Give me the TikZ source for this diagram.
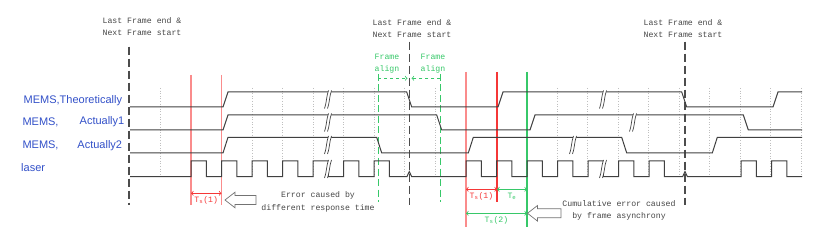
\documentclass[tikz,border=0pt]{standalone}
\usepackage{fontspec}
\newfontfamily\monofont{Liberation Mono}
\newfontfamily\labelfont{Liberation Sans}
\definecolor{memsblue}{RGB}{50,80,200}
\definecolor{markred}{RGB}{250,140,140}
\definecolor{dimred}{RGB}{245,55,55}
\definecolor{markgreen}{RGB}{55,200,105}
\definecolor{notegray}{RGB}{70,70,70}
\tikzset{
	sig/.style = {line width = 1pt, black!75},
	frameline/.style = {line width = 1.1pt, black!70, dash pattern = on 8pt off 4pt},
	alignline/.style = {line width = 1pt, markgreen, dash pattern = on 7pt off 3.5pt},
	gridline/.style = {black!25, dotted, line width = 0.6pt},
	note/.style = {font = \monofont\fontsize{8.2}{12.3}\selectfont, notegray, align = center, inner sep = 0pt},
	dimtext/.style = {font = \monofont\fontsize{8.2}{10}\selectfont, inner sep = 0pt},
	rowlabel/.style = {font = \labelfont\fontsize{11}{13}\selectfont, memsblue, inner sep = 0pt},
	hollow/.style = {draw = black!55, fill = white, line width = 0.7pt},
	brk/.pic = {
		\fill [white] (-3.5,9) -- (0.5,-9) -- (3.5,-9) -- (-0.5,9) -- cycle;
		\draw [line width = 0.7pt, black!75] (-3.5,9) .. controls (-1.5,4) and (-1.5,-4) .. (0.5,-9);
		\draw [line width = 0.7pt, black!75] (-0.5,9) .. controls (1.5,4) and (1.5,-4) .. (3.5,-9);
	}
}
\begin{document}
\begin{tikzpicture} [x = 1pt, y = -1pt]
	\useasboundingbox (0,0) rectangle (830,243);
	\foreach \k in {1,...,22}
		\draw [gridline] (130+30.5*\k,88) -- (130+30.5*\k,178);
	\node [note] (frametxt1) at (142,26.5) {Last Frame end \&\\Next Frame start};
	\node [note] (frametxt2) at (412,28.3) {Last Frame end \&\\Next Frame start};
	\node [note] (frametxt3) at (683,28.3) {Last Frame end \&\\Next Frame start};
	\draw [frameline] (129,46.7) -- (129,205);
	\draw [frameline] (409.3,41.7) -- (409.3,205);
	\draw [frameline] (685,41.7) -- (685,205);
	\draw [line width = 1.8pt, markred] (191,75) -- (191,205);
	\draw [line width = 1.8pt, markred] (221.5,75) -- (221.5,205);
	\draw [line width = 1.8pt, markred] (466,72) -- (466,227);
	\draw [line width = 1.2pt, dimred] (497,72) -- (497,202);
	\draw [line width = 1.1pt, markgreen] (527,72) -- (527,227);
	\draw [alignline] (378,74) -- (378,202);
	\draw [alignline] (440.3,74) -- (440.3,202);
	\node [note, markgreen] (aligntxt1) at (387,63.5) {Frame\\align};
	\node [note, markgreen] (aligntxt2) at (433,63.5) {Frame\\align};
	\coordinate (alignl) at (378,78.3);
	\coordinate (alignr) at (440.3,78.3);
	\coordinate (alignm1) at (407.5,78.3);
	\coordinate (alignm2) at (411.5,78.3);
	\draw [->, markgreen, line width = 0.8pt, dashed] (alignl) -- (alignm1);
	\draw [->, markgreen, line width = 0.8pt, dashed] (alignr) -- (alignm2);
	\node [rowlabel, anchor = east] (theolabel) at (122.3,100.7) {MEMS,Theoretically};
	\node [rowlabel, anchor = west] (mems1label) at (22.3,122) {MEMS,};
	\node [rowlabel, anchor = east] (act1label) at (124.5,122) {Actually1};
	\node [rowlabel, anchor = west] (mems2label) at (22.3,145.3) {MEMS,};
	\node [rowlabel, anchor = east] (act2label) at (122.3,145.3) {Actually2};
	\node [rowlabel, anchor = west] (laserlabel) at (21,168) {laser};
	\draw [sig] (130,107) -- (223,107) -- (228,92) -- (406.7,92) -- (411.7,107) -- (498,107) -- (503,92) -- (681.7,92) -- (686.7,107) -- (773,107) -- (778,92) -- (802,92);
	\draw [sig] (130,130) -- (223,130) -- (228,115) -- (436.7,115) -- (441.7,130) -- (530,130) -- (535,115) -- (743.3,115) -- (748.3,130) -- (802,130);
	\draw [sig] (130,153) -- (223,153) -- (228,137.3) -- (376.7,137.3) -- (381.7,153) -- (468.3,153) -- (473.3,137.3) -- (621.7,137.3) -- (626.7,153) -- (712.3,153) -- (717.3,137.3) -- (802,137.3);
	\draw [sig] (130,176.5)
		foreach \r in {191,221.5,252,282.5,313,343.5,374} { -- (\r,176.5) -- ++(0,-15.5) -- ++(15.25,0) -- ++(0,15.5) }
		-- (407,176.5) -- (409.3,171.5) -- (411.6,176.5)
		foreach \r in {466,496.5,527,557.5,588,618.5,649} { -- (\r,176.5) -- ++(0,-15.5) -- ++(15.25,0) -- ++(0,15.5) }
		-- (682.7,176.5) -- (685,171.5) -- (687.3,176.5)
		foreach \r in {741,771.5} { -- (\r,176.5) -- ++(0,-15.5) -- ++(15.25,0) -- ++(0,15.5) }
		-- (802,176.5);
	\pic at (328,99.5) {brk};
	\pic at (328,122.5) {brk};
	\pic at (328,145) {brk};
	\pic at (328,169) {brk};
	\pic at (603,99.5) {brk};
	\pic at (633,122.5) {brk};
	\pic at (573,145) {brk};
	\pic at (603,169) {brk};
	\coordinate (ts1a) at (191,193.3);
	\coordinate (ts1b) at (221.5,193.3);
	\draw [<->, dimred, line width = 0.8pt] (ts1a) -- (ts1b) node [dimtext, midway, below = 3pt] (ts1txt) {T\textsubscript{s}(1)};
	\coordinate (ts2a) at (466,189.3);
	\coordinate (ts2b) at (497,189.3);
	\coordinate (ts2c) at (527,189.3);
	\draw [<->, dimred, line width = 0.8pt] (ts2a) -- (ts2b) node [dimtext, midway, below = 3pt] (ts2txt) {T\textsubscript{s}(1)};
	\draw [<->, markgreen, line width = 0.8pt] (ts2b) -- (ts2c) node [dimtext, midway, below = 3pt] (tetxt) {T\textsubscript{e}};
	\coordinate (ts3a) at (466,213.3);
	\coordinate (ts3b) at (527,213.3);
	\draw [<->, markgreen, line width = 0.8pt] (ts3a) -- (ts3b) node [dimtext, midway, below = 3pt] (ts3txt) {T\textsubscript{s}(2)};
	\draw [hollow] (225,200) -- (235,192.2) -- (235,195.5) -- (256,195.5) -- (256,204.5) -- (235,204.5) -- (235,207.8) -- cycle;
	\draw [hollow] (527.5,213.3) -- (537.5,205.5) -- (537.5,208.8) -- (561,208.8) -- (561,217.8) -- (537.5,217.8) -- (537.5,221.1) -- cycle;
	\node [note] (errtxt) at (318,202) {Error caused by\\different response time};
	\node [note] (cumtxt) at (619,210.5) {Cumulative error caused\\by frame asynchrony};
\end{tikzpicture}
\end{document}
